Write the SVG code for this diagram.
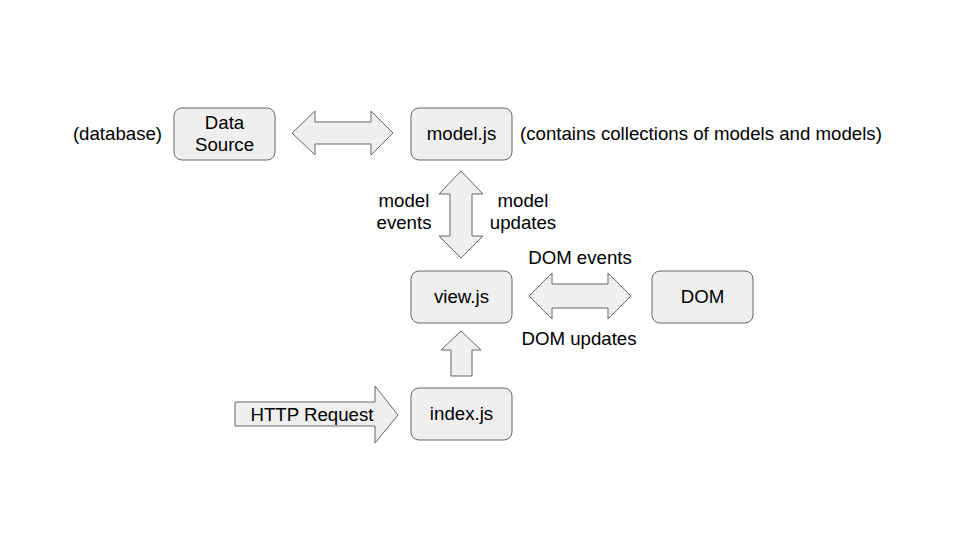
<svg xmlns="http://www.w3.org/2000/svg" width="960" height="540" viewBox="0 0 960 540">
<style>
.box{fill:#efefef;stroke:#666666;stroke-width:1}
.arr{fill:#efefef;stroke:#666666;stroke-width:1;stroke-linejoin:miter}
text{font-family:"Liberation Sans",Arial,sans-serif;font-size:18.67px;fill:#000}
.c{text-anchor:middle}
</style>
<rect width="960" height="540" fill="#ffffff"/>
<g id="connectors">
<polygon id="arrow-ds-model" class="arr" points="292,133 315,111 315,122 371,122 371,111 393,133 371,155 371,144 315,144 315,155"/>
<polygon id="arrow-model-view" class="arr" points="461,171 483,194 472,194 472,236 483,236 461,258 439,236 450,236 450,194 439,194"/>
<polygon id="arrow-view-dom" class="arr" points="529,296 552,273 552,284 608,284 608,273 631,296 608,319 608,308 552,308 552,319"/>
<polygon id="arrow-index-view" class="arr" points="461,331 481,350 472,350 472,376 451,376 451,350 441,350"/>
<polygon id="arrow-http" class="arr" points="235,402 375,402 375,386 398,415 375,443 375,426 235,426"/>
</g>
<g id="labels">
<text x="117.5" y="140" class="c">(database)</text>
<text x="520" y="140">(contains collections of models and models)</text>
<text x="404" y="207" class="c">model</text>
<text x="404" y="229" class="c">events</text>
<text x="523" y="207" class="c">model</text>
<text x="523" y="229" class="c">updates</text>
<text x="580" y="264" class="c">DOM events</text>
<text x="579" y="345" class="c">DOM updates</text>
<text x="312" y="421" class="c">HTTP Request</text>
</g>
<g id="node-datasource">
<rect class="box" x="174" y="108" width="101" height="52" rx="8"/>
<text x="224.5" y="129" class="c">Data</text>
<text x="224.5" y="151" class="c">Source</text>
</g>
<g id="node-model">
<rect class="box" x="411" y="108" width="101" height="52" rx="8"/>
<text x="461.5" y="140" class="c">model.js</text>
</g>
<g id="node-view">
<rect class="box" x="411" y="271" width="101" height="52" rx="8"/>
<text x="461.5" y="303" class="c">view.js</text>
</g>
<g id="node-dom">
<rect class="box" x="652" y="271" width="101" height="52" rx="8"/>
<text x="702.5" y="303" class="c">DOM</text>
</g>
<g id="node-index">
<rect class="box" x="411" y="388" width="101" height="52" rx="8"/>
<text x="461.5" y="420" class="c">index.js</text>
</g>
</svg>
